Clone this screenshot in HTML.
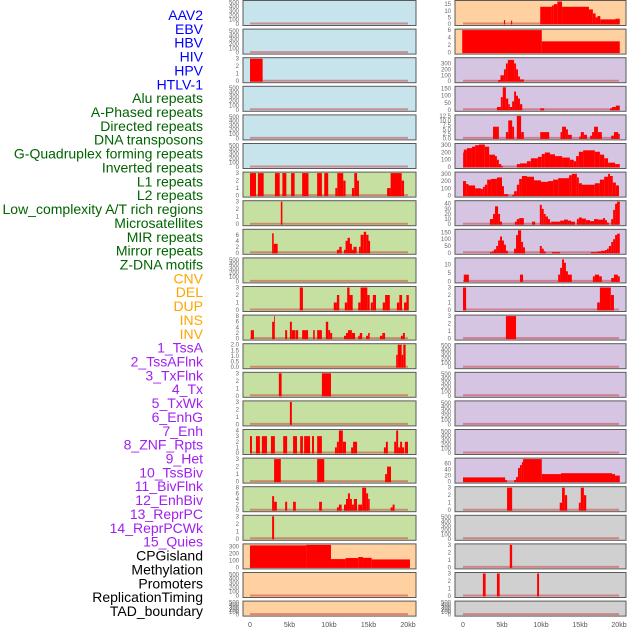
<!DOCTYPE html>
<html><head><meta charset="utf-8"><style>
html,body{margin:0;padding:0;background:#fff}
svg{display:block}
</style></head><body>
<svg id="chart" width="630" height="630" xmlns="http://www.w3.org/2000/svg"></svg>
<script>
const trackLabels = ["AAV2","EBV","HBV","HIV","HPV","HTLV-1","Alu repeats","A-Phased repeats","Directed repeats","DNA transposons","G-Quadruplex forming repeats","Inverted repeats","L1 repeats","L2 repeats","Low_complexity A/T rich regions","Microsatellites","MIR repeats","Mirror repeats","Z-DNA motifs","CNV","DEL","DUP","INS","INV","1_TssA","2_TssAFlnk","3_TxFlnk","4_Tx","5_TxWk","6_EnhG","7_Enh","8_ZNF_Rpts","9_Het","10_TssBiv","11_BivFlnk","12_EnhBiv","13_ReprPC","14_ReprPCWk","15_Quies","CPGisland","Methylation","Promoters","ReplicationTiming","TAD_boundary"];
const labelColors = ["#0000ff","#0000ff","#0000ff","#0000ff","#0000ff","#0000ff","#006400","#006400","#006400","#006400","#006400","#006400","#006400","#006400","#006400","#006400","#006400","#006400","#006400","#ffa500","#ffa500","#ffa500","#ffa500","#ffa500","#a020f0","#a020f0","#a020f0","#a020f0","#a020f0","#a020f0","#a020f0","#a020f0","#a020f0","#a020f0","#a020f0","#a020f0","#a020f0","#a020f0","#a020f0","#000","#000","#000","#000","#000"];
const xTickValues = [0,5,10,15,20];
const xTickLabels = ["0","5kb","10kb","15kb","20kb"];
const E = [0,100,200,300,400,500];
const T3 = [0,1,2,3];
const panelYMax = [
 520,520,3,520,520,520,3,3,7.5,520,3,8,2,3,3,4,3,8,3,325,520,520,
 17,6,380,160,12.5,310,310,44,165,13.3,3,3,520,520,520,520,75,3,520,3,3,520];
const panelTicks = [
 E,E,T3,E,E,E,T3,T3,[0,2,4,6],E,T3,[0,2,4,6,8],[0,0.5,1,1.5,2],T3,T3,[0,1,2,3,4],T3,[0,2,4,6,8],T3,[0,100,200,300],E,E,
 [0,5,10,15],[0,2,4,6],[0,100,200,300],[0,50,100,150],[0,2.5,5,7.5,10,12.5],[0,100,200,300],[0,100,200,300],[0,10,20,30,40],[0,50,100,150],[0,5,10],T3,T3,E,E,E,E,[0,20,40,60],T3,E,T3,T3,E];
const panelBg = [
 "#c7e3eb","#c7e3eb","#c7e3eb","#c7e3eb","#c7e3eb","#c7e3eb","#c6e0a2","#c6e0a2","#c6e0a2","#c6e0a2","#c6e0a2","#c6e0a2","#c6e0a2","#c6e0a2","#c6e0a2","#c6e0a2","#c6e0a2","#c6e0a2","#c6e0a2","#ffd0a0","#ffd0a0","#ffd0a0",
 "#ffd0a0","#ffd0a0","#d6c5e2","#d6c5e2","#d6c5e2","#d6c5e2","#d6c5e2","#d6c5e2","#d6c5e2","#d6c5e2","#d6c5e2","#d6c5e2","#d6c5e2","#d6c5e2","#d6c5e2","#d6c5e2","#d6c5e2","#d0d0d0","#d0d0d0","#d0d0d0","#d0d0d0","#d0d0d0"];
// bars per panel: [start kb, end kb, value]
const panelBars = [
 [],[],
 [[0,1.6,3]],
 [],[],[],
 [[0,0.76,3],[1,1.73,3],[3.16,3.76,3],[4.1,4.6,3],[5.2,5.65,3],[6.6,7.4,3],[8.5,9.1,3],[9.4,9.9,3],[10.8,11.05,1],[11.05,11.8,3],[11.8,12.1,2],[12.9,13.2,1],[13.2,13.55,3],[13.55,13.8,2],[17.35,17.8,1],[17.8,19.2,3],[19.2,19.5,2]],
 [[3.9,4.1,3]],
 [[2.8,3,6.5],[3,3.5,3],[11,11.3,1],[11.3,11.6,2],[11.9,12.1,1],[12.1,12.35,4],[12.35,12.65,5],[12.65,12.9,3],[12.9,13.1,1],[13.1,13.5,2],[13.8,14,2],[14,14.4,6],[14.4,14.7,7],[14.7,15,6],[15,15.2,4]],
 [],
 [[6.3,6.7,3],[10.6,11,1],[11,11.3,2],[12,12.3,1],[12.3,12.6,3],[12.6,13,2],[13.7,14,1],[14,14.85,3],[14.85,15.15,2],[15.3,15.55,1],[15.55,15.95,2],[16.8,17.1,1],[17.1,17.7,2],[18.6,18.9,1],[18.9,19.25,2],[19.5,19.8,1],[19.8,20.1,2]],
 [[0.1,0.5,3],[2.8,3.05,6],[3.05,3.15,8],[4.45,4.7,3],[5.05,5.3,6],[5.3,5.75,3],[5.8,6.1,3],[6.6,7.35,3],[8,8.2,3],[8.5,9.1,3],[9.6,9.9,6],[9.9,10.15,3],[10.15,10.4,2],[11.9,12.15,1],[12.15,12.4,2],[12.4,12.9,3],[12.9,13.3,2],[13.7,13.9,1],[13.9,14.2,2],[14.7,14.95,1],[14.95,15.15,2],[16.45,16.75,1],[16.75,17.1,2],[19.1,19.35,1],[19.35,19.6,2]],
 [[18.5,18.7,1.1],[18.7,19.2,2],[19.2,19.4,1.1],[19.4,19.7,2]],
 [[3.65,4,3],[9.1,10.25,3]],
 [[5.05,5.3,3]],
 [[0,0.25,3],[0.75,1.25,3],[1.5,2.15,3],[2.65,3.15,3],[4.2,4.7,3],[5.45,5.95,3],[6.35,6.7,3],[6.85,7.6,3],[7.85,8.1,3],[8.5,9.1,3],[10.75,11,1],[11,11.25,2],[11.25,11.75,4],[11.75,12.15,2],[12.8,13.05,1],[13.05,13.55,2],[16.95,17.2,1],[17.2,17.45,2],[18.25,18.5,2],[18.5,18.75,4],[18.75,19,1],[19,19.25,2],[19.25,19.5,1],[19.6,20,2]],
 [[3.05,3.9,3],[8.5,9.4,3],[17.1,17.35,1],[17.35,17.85,2]],
 [[2.8,3.05,5],[3.05,3.4,3],[4.45,4.7,3],[5.45,5.8,3],[8.75,9.1,3],[11,11.25,1],[11.25,11.6,2],[11.9,12.15,2],[12.15,12.4,4],[12.4,12.65,6],[12.65,12.9,4],[12.9,13.15,2],[13.15,13.55,4],[13.7,14.2,2],[14.2,14.7,8],[14.7,14.95,6],[14.95,15.15,4],[17.8,18.05,1],[18.05,18.3,2]],
 [[2.8,3.05,3]],
 [[0,7.1,318],[7.1,10.25,325],[10.25,12.1,120],[12.1,13.7,135],[13.7,14.3,150],[14.3,15.4,138],[15.4,20.25,115]],
 [],[],
 // right column
 [[5.25,5.4,3],[6.15,6.3,2.5],[9.9,11.4,13],[11.4,11.65,14],[11.65,12.1,15],[12.1,12.7,17],[12.7,16.15,13],[16.15,16.65,11],[16.65,17,8],[17,17.25,5],[17.25,17.6,6],[17.6,19.55,3.5],[19.55,20.1,4]],
 [[-0.1,10.1,6],[10.1,20.1,3]],
 [[4.5,4.8,20],[4.8,5.25,100],[5.25,5.5,200],[5.5,5.75,300],[5.75,6.55,360],[6.55,6.8,300],[6.8,7.05,200],[7.05,7.3,80],[7.3,7.8,30]],
 [[4.35,4.85,20],[4.85,5.1,90],[5.1,5.5,160],[5.5,5.8,80],[5.8,6,40],[6,6.3,20],[6.3,6.55,60],[6.55,6.8,130],[6.8,7.05,100],[7.05,7.3,80],[7.3,7.6,40],[9.9,10.4,10],[18.85,19.1,10],[19.1,19.6,20],[19.6,20.1,30]],
 [[3.85,4.6,6.5],[5.5,5.8,3.5],[5.8,6.3,10],[6.3,6.55,6.5],[6.9,7.45,12.5],[7.45,7.8,3.5],[9.9,11.05,3.5],[12.5,12.7,3.5],[12.7,13.2,6.5],[13.2,13.45,5],[13.45,13.95,2],[14.9,15.1,1],[15.1,15.5,3.5],[15.5,15.9,2],[16.3,16.55,1.5],[16.55,16.8,3.5],[16.8,17.3,6.5],[17.3,17.8,3.5],[19,19.35,1.5],[19.35,19.9,3.5],[19.9,20.1,2.5]],
 [[0,0.1,200],[0.1,0.5,240],[0.5,1.15,260],[1.15,1.55,280],[1.55,2.05,300],[2.05,2.8,310],[2.8,3.35,280],[3.35,4.1,170],[4.1,4.35,150],[4.35,4.6,100],[4.6,4.9,40],[4.9,5.1,15],[6.9,7.3,40],[7.3,8.2,50],[8.2,8.7,80],[8.7,9.6,120],[9.6,10.1,140],[10.1,10.5,180],[10.5,11.15,200],[11.15,11.8,175],[11.8,12.7,150],[12.7,13.7,130],[13.7,14.2,100],[14.2,14.5,80],[14.5,14.85,150],[14.85,15.4,210],[15.4,16.9,230],[16.9,17.55,210],[17.55,18.1,170],[18.1,18.6,120],[18.6,19.5,60],[19.5,20.1,40]],
 [[0,0.4,200],[0.4,0.7,160],[0.7,1.55,140],[1.55,2.3,100],[2.3,2.55,90],[2.55,2.8,120],[2.8,3.1,150],[3.1,3.6,220],[3.6,4.35,230],[4.35,5,250],[5,5.25,130],[5.25,5.8,20],[6.3,6.55,10],[6.55,6.9,60],[6.9,7.2,150],[7.2,7.55,230],[7.55,8.2,270],[8.2,9.1,260],[9.1,10,210],[10,10.9,190],[10.9,11.55,200],[11.55,12.2,220],[12.2,13.6,240],[13.6,13.95,280],[13.95,14.6,300],[14.6,14.85,250],[14.85,15.25,170],[15.25,16.9,150],[16.9,17.55,170],[17.55,18.1,220],[18.1,18.6,260],[18.6,18.85,300],[18.85,19.2,270],[19.2,19.6,180],[19.6,20,140]],
 [[3.45,3.85,10],[3.85,4.1,20],[4.1,4.5,35],[4.5,4.75,20],[4.75,5,5],[6.65,6.9,5],[6.9,7.2,10],[7.2,7.8,12],[8.85,9.25,5],[9.85,10.1,38],[10.1,10.35,30],[10.35,10.6,20],[10.6,10.9,15],[10.9,11.15,10],[11.15,11.3,3],[11.3,12.45,5],[12.45,12.95,7],[12.95,13.45,9],[13.45,13.85,7],[13.85,14.35,5],[14.6,14.85,10],[14.85,15.25,13],[15.25,15.75,11],[15.75,16.3,8],[16.3,16.8,6],[16.8,17.3,10],[17.3,17.95,9],[17.95,18.2,12],[18.2,18.45,8],[18.45,18.7,3],[19,19.25,10],[19.25,19.5,28],[19.5,19.75,40],[19.75,20.1,44]],
 [[3.45,3.7,5],[3.7,3.95,10],[3.95,4.25,25],[4.25,4.5,50],[4.5,4.75,90],[4.75,5,120],[5,5.25,90],[5.25,5.5,60],[5.5,5.75,15],[6.55,6.8,30],[6.8,7.05,130],[7.05,7.45,165],[7.45,7.7,80],[7.7,7.95,40],[9.85,10.1,50],[10.1,10.35,30],[10.35,10.6,10],[11.4,12.45,5],[16.4,17.2,5],[17.2,17.7,10],[17.7,18.2,15],[18.2,18.45,20],[18.45,18.7,30],[18.7,19,50],[19,19.25,80],[19.25,19.5,100],[19.5,19.75,130],[19.75,20.1,140]],
 [[0.1,0.75,4],[7.3,7.7,4],[12.2,12.45,4],[12.45,12.7,8],[12.7,12.95,13],[12.95,13.2,11],[13.2,13.45,6],[13.45,13.95,4],[16.65,16.9,3],[16.9,17.45,4],[17.45,17.8,3],[19,19.35,2],[19.35,19.85,4],[19.85,20.1,3]],
 [[0,0.4,3],[17.2,17.55,1],[17.55,18.95,3],[18.95,19.35,2]],
 [[5.5,6.8,3]],
 [],[],[],[],
 [[0,5.4,14],[5.4,5.65,5],[6.55,6.8,5],[6.8,7.05,15],[7.05,7.3,45],[7.3,7.55,55],[7.55,7.7,65],[7.7,10.1,75],[10.1,12.55,25],[12.55,19.1,28],[19.1,19.5,25],[19.5,20.1,20]],
 [[5.65,6.3,3],[12.4,12.7,1],[12.7,13.05,3],[13.05,13.35,2],[14.85,15.1,1],[15.1,15.5,3],[15.5,15.8,2]],
 [],
 [[6,6.3,3]],
 [[2.55,2.9,3],[4.35,4.7,3],[9.5,9.75,3]],
 []
];

const NS = "http://www.w3.org/2000/svg";
const svg = document.getElementById("chart");
function mk(tag, attrs, parent){const e=document.createElementNS(NS,tag);for(const k in attrs)e.setAttribute(k,attrs[k]);(parent||svg).appendChild(e);return e;}

// labels
trackLabels.forEach((t,i)=>{
  const el = mk("text",{x:203,y:(15+i*13.86+5).toFixed(1),"text-anchor":"end","font-family":"Liberation Sans, sans-serif","font-size":"14",fill:labelColors[i]});
  el.textContent = t;
  
  
});

const cols = [{x0:243,x1:416,zero:250,scale:7.9},{x0:455,x1:626,zero:463,scale:7.8}];
function fmt(v,ticks){const dec = ticks.some(t=>t%1!==0);return dec? v.toFixed(1): String(v);}

for(let p=0;p<44;p++){
  const c = cols[p<22?0:1];
  const row = p%22;
  const top = 0.5 + row*28.6;
  const h = row===21 ? 15 : 25;
  const g = mk("g",{});
  
  
  const bg = mk("rect",{x:c.x0,y:top,width:c.x1-c.x0,height:h,fill:panelBg[p]},g);
  
  
  const ymax = panelYMax[p];
  const yb = top + h - 1.5, yt = top + 1;
  const ys = v => yb - (v/ymax)*(yb-yt);
  const xs = k => c.zero + k*c.scale;
  const base = mk("line",{x1:xs(0),x2:xs(20),y1:yb-0.5,y2:yb-0.5,stroke:"rgba(200,40,40,0.45)","stroke-width":2},g);
  
  
  panelBars[p].forEach(b=>{
    const y = ys(b[2]);
    const r = mk("rect",{x:xs(b[0]).toFixed(2),y:y.toFixed(2),width:(xs(b[1])-xs(b[0])).toFixed(2),height:(yb-y+0.5).toFixed(2),fill:"#ff0000"},g);
    
    
  });
  const border = mk("rect",{x:c.x0,y:top,width:c.x1-c.x0,height:h,fill:"none",stroke:"#5a5a5a","stroke-width":1},g);
  
  
  const ticks = panelTicks[p];
  ticks.forEach(t=>{
    const tx = mk("text",{x:c.x0-4,y:(ys(t)+2).toFixed(1),"text-anchor":"end","font-family":"Liberation Sans, sans-serif","font-size":"6",fill:"#666"},g);
    tx.textContent = fmt(t,ticks);
    
    
  });
}
// x axes
cols.forEach(c=>{
  xTickValues.forEach((v,i)=>{
    const t = mk("text",{x:c.zero+v*c.scale,y:627,"text-anchor":"middle","font-family":"Liberation Sans, sans-serif","font-size":"7",fill:"#555"});
    t.textContent = xTickLabels[i];
    
    
  });
});
</script>
</body></html>
